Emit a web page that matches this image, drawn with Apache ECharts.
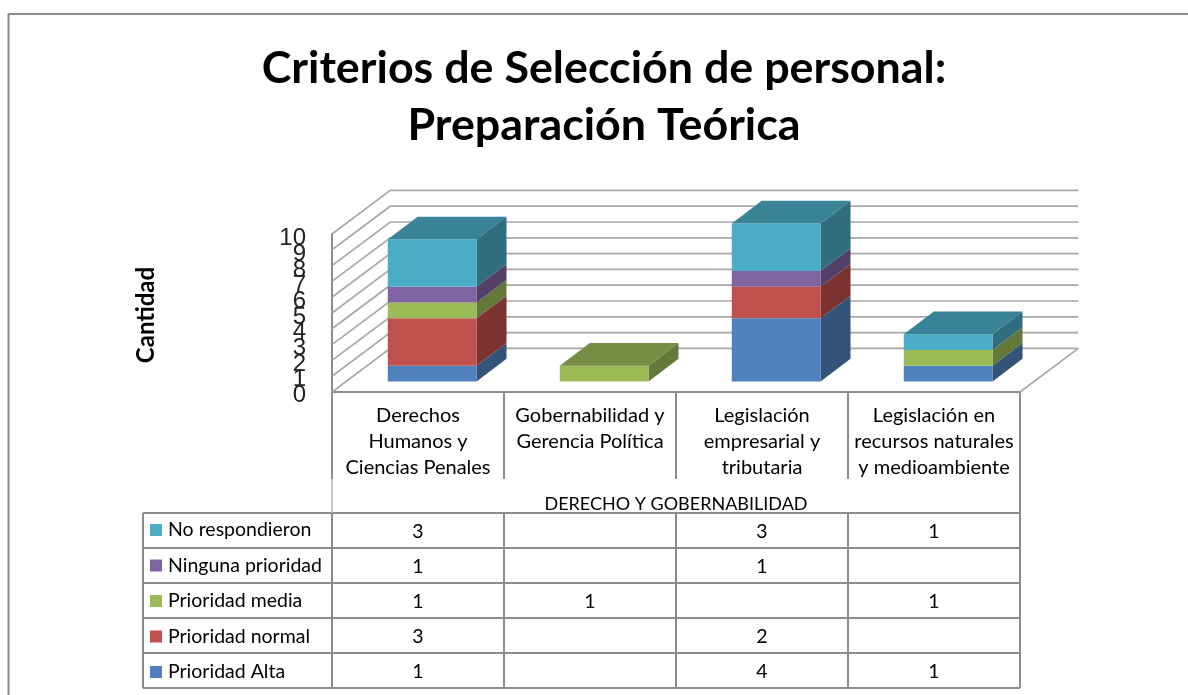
<!DOCTYPE html>
<html><head><meta charset="utf-8">
<style>html,body{margin:0;padding:0;background:#fff}#c{width:1188px;height:695px}</style>
<script src="https://cdn.jsdelivr.net/npm/echarts@6/dist/echarts.min.js"></script>
</head><body><div id="c"></div>
<script>
const titleText = 'Criterios de Selección de personal:\nPreparación Teórica';
const yAxisName = 'Cantidad';
const groupName = 'DERECHO Y GOBERNABILIDAD';
const categories = ['Derechos\nHumanos y\nCiencias Penales','Gobernabilidad y\nGerencia Política\n ','Legislación\nempresarial y\ntributaria','Legislación en\nrecursos naturales\ny medioambiente'];
const yTicks = [0,1,2,3,4,5,6,7,8,9,10];
const prioridadAlta = [1,null,4,1];
const prioridadNormal = [3,null,2,null];
const prioridadMedia = [1,1,null,1];
const ningunaPrioridad = [1,null,1,null];
const noRespondieron = [3,null,3,1];
// bottom-to-top stacking order
const stackNames = ['Prioridad Alta','Prioridad normal','Prioridad media','Ninguna prioridad','No respondieron'];
const stackValues = [prioridadAlta,prioridadNormal,prioridadMedia,ningunaPrioridad,noRespondieron];
const stackColors = ['#4F81BD','#C0504D','#9BBB59','#8064A2','#4BACC6'];
const tableRows = stackNames.slice().reverse();

const FONT='Lato', GRID='#8c8c8c', WALL='#a8a8a8', TXT=19.5;
const depthX=58.3, depthY=43.6, barDX=30, barDY=22.7, barRatio=0.516;
function shade(hex,k){const n=parseInt(hex.slice(1),16);
  return 'rgb('+[(n>>16)&255,(n>>8)&255,n&255].map(c=>Math.round(c*k)).join(',')+')';}

const barSeries = stackNames.map((name,s)=>({
  name, type:'custom', xAxisIndex:0, yAxisIndex:0, clip:false, z:3,
  itemStyle:{color:stackColors[s]},
  encode:{x:0,y:1},
  data: categories.map((c,i)=>{
    const v=stackValues[s][i];
    if(v==null) return null;
    let base=0; for(let k=0;k<s;k++) base+=stackValues[k][i]||0;
    let above=0; for(let k=s+1;k<stackValues.length;k++) above+=stackValues[k][i]||0;
    return [i,base+v,base,above>0?0:1];
  }).filter(d=>d),
  renderItem(params,api){
    const i=api.value(0), top=api.coord([i,api.value(1)]), bot=api.coord([i,api.value(2)]);
    const w=api.size([1,0])[0]*barRatio;
    const offX=(depthX-barDX)/2, offY=(depthY-barDY)/2;
    const x0=top[0]-w/2+offX, x1=x0+w, yT=top[1]-offY, yB=bot[1]-offY;
    const c=stackColors[s];
    const kids=[
      {type:'polygon',shape:{points:[[x1,yB],[x1+barDX,yB-barDY],[x1+barDX,yT-barDY],[x1,yT]]},style:{fill:shade(c,0.64)}},
      {type:'rect',shape:{x:x0,y:yT,width:w,height:yB-yT},style:{fill:c}}
    ];
    if(api.value(3)) kids.push({type:'polygon',shape:{points:[[x0,yT],[x1,yT],[x1+barDX,yT-barDY],[x0+barDX,yT-barDY]]},style:{fill:shade(c,0.76)}});
    return {type:'group',children:kids};
  }
}));

const wallSeries = {
  type:'custom', xAxisIndex:0, yAxisIndex:0, clip:false, silent:true, z:1,
  encode:{y:1}, data:yTicks.map(t=>[0,t]),
  renderItem(params,api){
    const v=api.value(1), y=api.coord([0,v])[1], cs=params.coordSys;
    const st={stroke:WALL,lineWidth:1.7,fill:null};
    const kids=[{type:'polyline',shape:{points:[[cs.x,y],[cs.x+depthX,y-depthY],[cs.x+cs.width+depthX,y-depthY]]},style:st}];
    if(v===0) kids.push({type:'line',shape:{x1:cs.x+cs.width,y1:y,x2:cs.x+cs.width+depthX,y2:y-depthY},style:st});
    return {type:'group',children:kids};
  }
};

const cellData=[];
tableRows.forEach((name,r)=>{
  const vals=stackValues[stackNames.indexOf(name)];
  vals.forEach((v,i)=>{ if(v!=null) cellData.push([i,r,v]); });
});
const tableSeries = {
  type:'custom', xAxisIndex:1, yAxisIndex:1, silent:true, z:4, encode:{x:0,y:1}, data:cellData,
  renderItem(params,api){
    const p=api.coord([api.value(0),api.value(1)]);
    return {type:'text',style:{x:p[0],y:p[1]+1,text:String(api.value(2)),align:'center',verticalAlign:'middle',
      font:TXT+'px '+FONT,fill:'#000'}};
  }
};

const L=332, R=1020, T0=392, T1=479, T2=513, B=688, LEFT=143;
const lines=[[8.5,14,8.5,695],[8,14,1188,14]];
const rowH=(B-T2)/5, colW=(R-L)/4;
for(let r=0;r<=5;r++) lines.push([LEFT,T2+r*rowH,R,T2+r*rowH]);
lines.push([LEFT,T2,LEFT,B],[L,T0,L,T1],[L,T2,L,B],[R,T0,R,B]);
for(let c=1;c<4;c++){ lines.push([L+c*colW,T0,L+c*colW,T1],[L+c*colW,T2,L+c*colW,B]); }
const graphic=lines.map(l=>({type:'line',silent:true,z:0,shape:{x1:l[0],y1:l[1],x2:l[2],y2:l[3]},style:{stroke:GRID,lineWidth:2}}));
graphic.push({type:'line',silent:true,z:0,shape:{x1:L,y1:T1,x2:L,y2:T2},style:{stroke:'#b4b4b4',lineWidth:1.5}});

const chart=echarts.init(document.getElementById('c'),null,{renderer:'canvas'});
chart.setOption({
  animation:false, backgroundColor:'#fff',
  title:{text:titleText,left:599,top:35,textAlign:'center',
    textStyle:{fontFamily:FONT,fontWeight:'bold',fontSize:44.8,lineHeight:57,color:'#000'}},
  legend:{left:145,top:515,height:190,orient:'vertical',itemWidth:12,itemHeight:12,itemGap:15.5,icon:'rect',
    data:tableRows,selectedMode:false,
    textStyle:{fontFamily:FONT,fontSize:TXT,lineHeight:17,color:'#000',padding:[0,0,0,1]}},
  grid:[
    {left:L,top:234,width:R-L,height:T0-234},
    {left:L,top:T2,width:R-L,height:B-T2},
    {left:L,top:238.5,width:R-L,height:157}
  ],
  xAxis:[
    {gridIndex:0,type:'category',data:categories,
     axisLine:{lineStyle:{color:GRID,width:2}},axisTick:{show:false},
     axisLabel:{interval:0,fontFamily:FONT,fontSize:20,lineHeight:26,color:'#000',margin:11,verticalAlign:'top'},
     name:groupName,nameLocation:'middle',nameGap:103,nameTextStyle:{fontFamily:FONT,fontSize:18,color:'#000'}},
    {gridIndex:1,type:'category',data:categories,show:false},
    {gridIndex:2,type:'category',data:categories,show:false}
  ],
  yAxis:[
    {gridIndex:0,type:'value',min:0,max:10,interval:1,splitLine:{show:false},
     axisLine:{show:true,lineStyle:{color:GRID,width:2}},axisTick:{show:false},axisLabel:{show:false}},
    {gridIndex:1,type:'category',data:tableRows,inverse:true,show:false},
    // tick labels: a category axis with interval 0 keeps every overlapping label, as the original does
    {gridIndex:2,type:'category',data:yTicks.map(String),boundaryGap:false,position:'left',
     axisLine:{show:false},axisTick:{show:false},splitLine:{show:false},
     axisLabel:{interval:0,fontFamily:'Liberation Sans',fontSize:24,color:'#222',margin:26},
     name:yAxisName,nameLocation:'middle',nameGap:174,nameRotate:90,
     nameTextStyle:{fontFamily:FONT,fontWeight:'bold',fontSize:24,color:'#000',padding:[0,0,0,4]}}
  ],
  graphic,
  series:[wallSeries,...barSeries,tableSeries]
});
</script></body></html>
